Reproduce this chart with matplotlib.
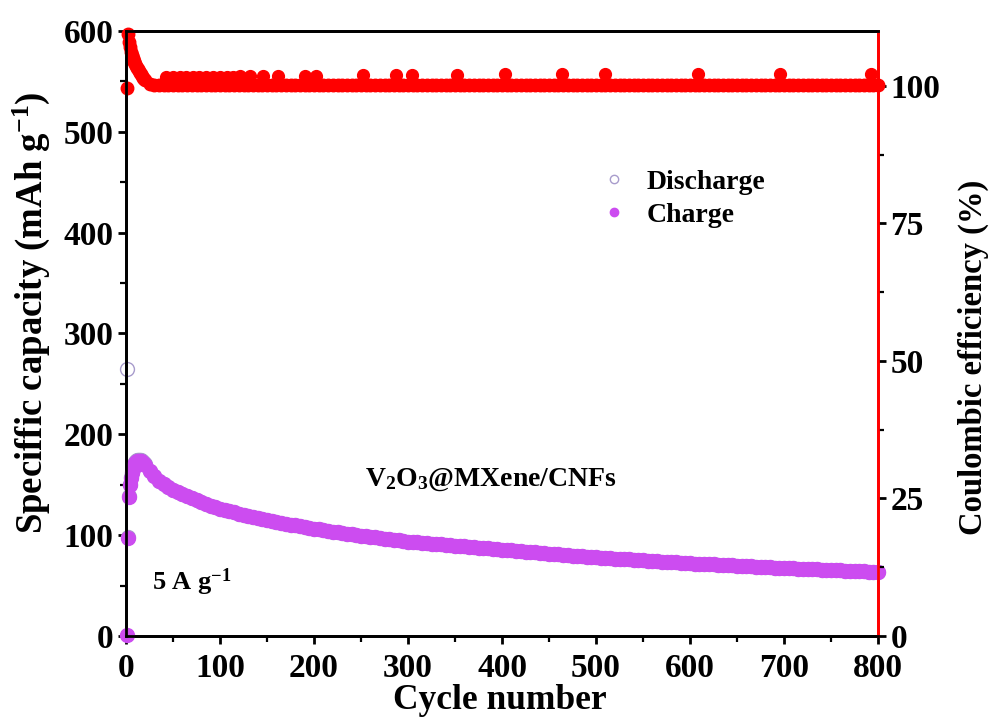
import matplotlib
matplotlib.use("Agg")
import matplotlib.pyplot as plt
from matplotlib.ticker import MultipleLocator
from matplotlib.lines import Line2D

plt.rcParams['font.family'] = ['Liberation Serif', 'DejaVu Serif']
plt.rcParams['font.weight'] = 'bold'
plt.rcParams['mathtext.fontset'] = 'custom'
plt.rcParams['mathtext.rm'] = 'Liberation Serif:bold'
plt.rcParams['mathtext.it'] = 'Liberation Serif:bold'
plt.rcParams['mathtext.bf'] = 'Liberation Serif:bold'

# cycle index: every cycle at the start, then every 5th
cycles = list(range(1, 21)) + list(range(25, 801, 5))

charge_capacity = [
    1.0, 97.0, 138.0, 150.0, 157.0, 162.0, 166.0, 168.0, 170.0, 171.5,
    172.5, 173.5, 174.0, 174.0, 174.0, 173.5, 173.0, 172.0, 171.0, 169.5,
    # 25 - 100
    164.0, 158.5, 154.0, 150.5, 147.5, 145.0, 142.5, 140.5, 138.5, 136.5,
    134.5, 132.5, 130.5, 129.0, 127.5, 126.0,
    # 105 - 200
    124.8, 123.6, 122.5, 121.4, 120.3, 119.2, 118.2, 117.2, 116.2, 115.2,
    114.2, 113.2, 112.3, 111.4, 110.5, 109.6, 108.7, 107.9, 107.1, 106.3,
    # 205 - 300
    105.6, 104.9, 104.2, 103.5, 102.8, 102.1, 101.4, 100.8, 100.2, 99.6,
    99.0, 98.4, 97.8, 97.2, 96.6, 96.0, 95.4, 94.8, 94.2, 93.6,
    # 305 - 400
    93.2, 92.8, 92.4, 92.0, 91.6, 91.2, 90.8, 90.4, 90.0, 89.6,
    89.2, 88.8, 88.4, 88.0, 87.6, 87.2, 86.8, 86.4, 86.0, 85.6,
    # 405 - 500
    85.2, 84.8, 84.4, 84.1, 83.7, 83.3, 82.9, 82.5, 82.1, 81.7,
    81.4, 81.0, 80.6, 80.2, 79.8, 79.5, 79.1, 78.8, 78.4, 78.0,
    # 505 - 600
    77.7, 77.4, 77.1, 76.8, 76.5, 76.2, 75.9, 75.6, 75.3, 75.0,
    74.7, 74.4, 74.1, 73.8, 73.5, 73.2, 72.9, 72.6, 72.3, 72.0,
    # 605 - 700
    71.8, 71.5, 71.3, 71.1, 70.9, 70.6, 70.4, 70.2, 69.9, 69.7,
    69.5, 69.3, 69.0, 68.8, 68.6, 68.4, 68.1, 67.9, 67.7, 67.5,
    # 705 - 800
    67.3, 67.1, 66.9, 66.7, 66.5, 66.3, 66.1, 65.9, 65.7, 65.5,
    65.3, 65.1, 64.9, 64.7, 64.5, 64.3, 64.1, 63.9, 63.7, 63.5,
]

# discharge equals charge once CE settles at 100 %, only the first cycles differ
discharge_first = [265.0, 98.0, 139.0, 151.0, 158.0, 163.0, 167.0, 169.0, 171.0, 172.5,
                   173.5, 174.5, 175.0, 175.0, 175.0, 174.5, 174.0, 173.0, 172.0, 170.5]
discharge_capacity = discharge_first + charge_capacity[len(discharge_first):]

coulombic_eff = [
    99.6, 109.5, 108.0, 107.0, 106.2, 105.6, 105.0, 104.6, 104.3, 104.0,
    103.6, 103.3, 103.0, 102.7, 102.4, 102.1, 101.8, 101.5, 101.2, 101.0,
    # 25 - 100
    100.4, 100.2, 100.2, 100.1, 100.2, 100.1, 100.2, 100.2, 100.1, 100.2,
    100.1, 100.2, 100.2, 100.1, 100.2, 100.1,
    # 105 - 800
    100.2, 100.1, 100.2, 100.2, 100.1, 100.2, 100.1, 100.2, 100.2, 100.1,
    100.2, 100.1, 100.2, 100.2, 100.1, 100.2, 100.1, 100.2, 100.2, 100.1,
    100.2, 100.1, 100.2, 100.2, 100.1, 100.2, 100.1, 100.2, 100.2, 100.1,
    100.2, 100.1, 100.2, 100.2, 100.1, 100.2, 100.1, 100.2, 100.2, 100.1,
    100.2, 100.1, 100.2, 100.2, 100.1, 100.2, 100.1, 100.2, 100.2, 100.1,
    100.2, 100.1, 100.2, 100.2, 100.1, 100.2, 100.1, 100.2, 100.2, 100.1,
    100.2, 100.1, 100.2, 100.2, 100.1, 100.2, 100.1, 100.2, 100.2, 100.1,
    100.2, 100.1, 100.2, 100.2, 100.1, 100.2, 100.1, 100.2, 100.2, 100.1,
    100.2, 100.1, 100.2, 100.2, 100.1, 100.2, 100.1, 100.2, 100.2, 100.1,
    100.2, 100.1, 100.2, 100.2, 100.1, 100.2, 100.1, 100.2, 100.2, 100.1,
    100.2, 100.1, 100.2, 100.2, 100.1, 100.2, 100.1, 100.2, 100.2, 100.1,
    100.2, 100.1, 100.2, 100.2, 100.1, 100.2, 100.1, 100.2, 100.2, 100.1,
    100.2, 100.1, 100.2, 100.2, 100.1, 100.2, 100.1, 100.2, 100.2, 100.1,
    100.2, 100.1, 100.2, 100.2, 100.1, 100.2, 100.1, 100.2, 100.2, 100.1,
]

# cycles where CE jumps slightly above the 100 % line
ce_spike_cycles = [43, 50, 57, 64, 71, 78, 85, 92, 100, 107, 114, 121, 132, 146,
                   162, 190, 202, 252, 287, 304, 352, 403, 464, 510, 608, 696, 793]
ce_spike_values = [101.6, 101.6, 101.6, 101.6, 101.6, 101.6, 101.7, 101.7, 101.7,
                   101.7, 101.7, 101.8, 101.8, 101.8, 101.8, 101.9, 101.9, 102.0,
                   102.0, 102.0, 102.0, 102.1, 102.1, 102.1, 102.2, 102.2, 102.2]

CHARGE_COLOR = '#CC4CF0'
DISCHARGE_COLOR = '#A89CCC'
CE_COLOR = '#FF0000'

fig = plt.figure(figsize=(9.97, 7.2), dpi=100)
ax = fig.add_axes([0.1264, 0.1167, 0.7543, 0.8403])
ax2 = ax.twinx()

ax.plot(cycles, discharge_capacity, 'o', ms=10, mfc='white', mec=DISCHARGE_COLOR,
        mew=1.0, clip_on=False, zorder=2)
ax.plot(cycles, charge_capacity, 'o', ms=10, color=CHARGE_COLOR, mec=CHARGE_COLOR,
        clip_on=False, zorder=3)

ax2.plot(cycles, coulombic_eff, 'o', ms=9, color=CE_COLOR, clip_on=False)
ax2.plot(ce_spike_cycles, ce_spike_values, 'o', ms=8.5, color=CE_COLOR, clip_on=False)

ax.set_xlim(0, 800)
ax.set_ylim(0, 600)
ax2.set_ylim(0, 110)

ax.xaxis.set_major_locator(MultipleLocator(100))
ax.xaxis.set_minor_locator(MultipleLocator(50))
ax.yaxis.set_major_locator(MultipleLocator(100))
ax.yaxis.set_minor_locator(MultipleLocator(50))
ax2.yaxis.set_major_locator(MultipleLocator(25))
ax2.yaxis.set_minor_locator(MultipleLocator(12.5))

for a in (ax, ax2):
    for side in ('left', 'bottom', 'top', 'right'):
        a.spines[side].set_linewidth(2.0)
    a.tick_params(which='major', direction='out', length=6, width=2,
                  labelsize=24, pad=3)
    a.tick_params(which='minor', direction='out', length=4, width=1.6)
ax.tick_params(axis='x', which='major', pad=6)
ax2.spines['right'].set_color(CE_COLOR)
ax.spines['right'].set_color(CE_COLOR)

ax.set_xlabel('Cycle number', fontsize=25.5, fontweight='bold')
ax.xaxis.set_label_coords(0.497, -0.080)
ax.set_ylabel('Speciffic capacity (mAh g$^{-1}$)', fontsize=26.5, fontweight='bold')
ax.yaxis.set_label_coords(-0.098, 0.535)
ax2.set_ylabel('Coulombic efficiency (%)', fontsize=23.5, fontweight='bold')
ax2.yaxis.set_label_coords(1.106, 0.461)

ax.text(0.485, 0.258, 'V$_2$O$_3$@MXene/CNFs', transform=ax.transAxes,
        fontsize=20, fontweight='bold', ha='center', va='center')
ax.text(0.035, 0.088, '5 A g$^{-1}$', transform=ax.transAxes,
        fontsize=19, fontweight='bold', ha='left', va='center')

handles = [
    Line2D([], [], ls='none', marker='o', ms=6, mfc='white', mec=DISCHARGE_COLOR, mew=1),
    Line2D([], [], ls='none', marker='o', ms=6, color=CHARGE_COLOR),
]
ax.legend(handles, ['Discharge', 'Charge'], loc='upper left',
          bbox_to_anchor=(0.593, 0.812), frameon=False, fontsize=20,
          handletextpad=0.6, labelspacing=0.25, handlelength=1.2)

fig.savefig('out.png', dpi=100)
